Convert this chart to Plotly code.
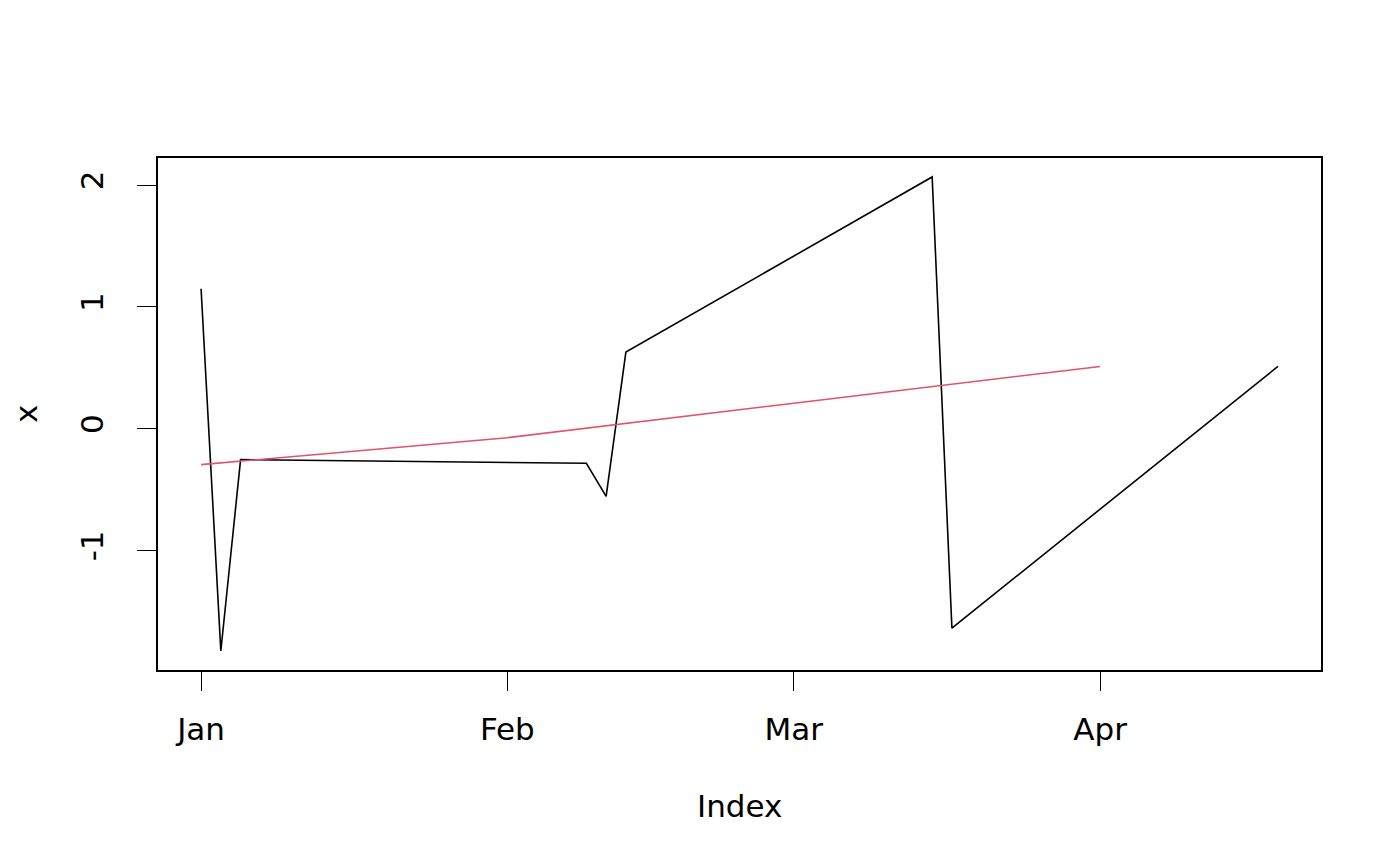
import pandas as pd
import plotly.graph_objects as go

# Data
dates = ["2020-01-01", "2020-01-03", "2020-01-05", "2020-02-09", "2020-02-11",
         "2020-02-13", "2020-03-15", "2020-03-17", "2020-04-19"]
values = [1.148, -1.825, -0.254, -0.284, -0.555, 0.629, 2.066, -1.637, 0.511]

trend_dates = ["2020-01-01", "2020-02-01", "2020-03-01", "2020-04-01"]
trend_values = [-0.295, -0.074, 0.209, 0.511]

tick_dates = ["2020-01-01", "2020-02-01", "2020-03-01", "2020-04-01"]
tick_labels = ["Jan", "Feb", "Mar", "Apr"]
y_ticks = [-1, 0, 1, 2]

FONT = "DejaVu Sans"
FS = 31

d = pd.to_datetime(dates)
span = d.max() - d.min()
xr = [d.min() - span * 0.04, d.max() + span * 0.04]
ys = max(values) - min(values)
yr = [min(values) - ys * 0.04, max(values) + ys * 0.04]

fig = go.Figure()
fig.add_trace(go.Scatter(x=dates, y=values, mode="lines",
                         line=dict(color="black", width=1.6), showlegend=False))
fig.add_trace(go.Scatter(x=trend_dates, y=trend_values, mode="lines",
                         line=dict(color="#DF536B", width=1.6), showlegend=False))

fig.update_layout(
    width=1400, height=866,
    margin=dict(l=150, r=87, t=150, b=204),
    paper_bgcolor="white", plot_bgcolor="white",
    font=dict(family=FONT, size=FS, color="black"),
    xaxis=dict(type="date", range=[xr[0].isoformat(), xr[1].isoformat()],
               tickmode="array", tickvals=tick_dates, ticktext=tick_labels,
               ticks="outside", ticklen=19, tickwidth=1.3, tickcolor="black",
               showline=True, mirror=True, linecolor="black", linewidth=2,
               showgrid=False, zeroline=False, ticklabelstandoff=12,
               tickfont=dict(family=FONT, size=FS)),
    yaxis=dict(range=yr, tickmode="array", tickvals=y_ticks,
               ticktext=[str(v) for v in y_ticks], tickangle=-90,
               ticks="outside", ticklen=19, tickwidth=1.3, tickcolor="black",
               showline=True, mirror=True, linecolor="black", linewidth=2,
               showgrid=False, zeroline=False, ticklabelstandoff=22,
               tickfont=dict(family=FONT, size=FS)),
    annotations=[
        dict(text="Index", xref="paper", yref="paper", x=0.5, y=-136/512,
             xanchor="center", yanchor="middle", showarrow=False,
             font=dict(family=FONT, size=FS)),
        dict(text="x", xref="paper", yref="paper", x=-132/1163, y=0.5,
             xanchor="center", yanchor="middle", textangle=-90, showarrow=False,
             font=dict(family=FONT, size=FS)),
    ],
)

fig.write_html("out.html")
